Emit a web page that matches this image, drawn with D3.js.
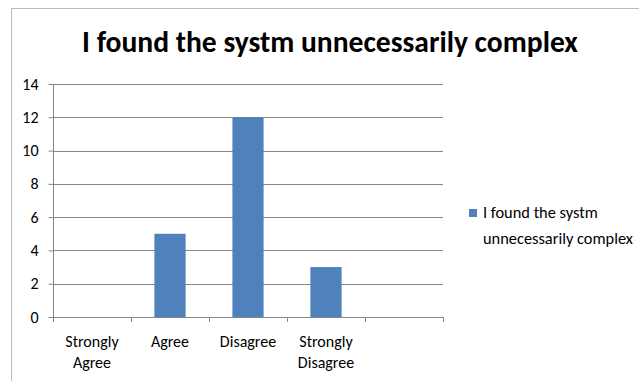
<!DOCTYPE html>
<html>
<head>
<meta charset="utf-8">
<script src="https://cdn.jsdelivr.net/npm/d3@7"></script>
<style>
  html, body { margin: 0; padding: 0; background: #fff; }
  svg { display: block; }
  text { font-family: Carlito, Calibri, Lato, "Open Sans", sans-serif; fill: #000; }
</style>
</head>
<body>
<svg id="chart" width="639" height="381"></svg>
<script>
// Survey responses for "I found the systm unnecessarily complex"
const chartTitle = "I found the systm unnecessarily complex";
const seriesName = "I found the systm unnecessarily complex";
const categories = ["Strongly Agree", "Agree", "Disagree", "Strongly Disagree", ""];
const values = [0, 5, 12, 3, null];
const yTicks = [0, 2, 4, 6, 8, 10, 12, 14];
const legendLines = ["I found the systm", "unnecessarily complex"];

const svg = d3.select("#chart");
const plot = { left: 53, right: 443, top: 84, bottom: 317 };
const gridColor = "#868686";
const barColor = "#4f81bd";

// Shrink or grow a text's font size so it spans the given width
function fitWidth(sel, width) {
  const node = sel.node();
  const size = parseFloat(sel.attr("font-size"));
  const w = node.getComputedTextLength();
  if (w > 0) sel.attr("font-size", (size * width / w).toFixed(2));
  return parseFloat(sel.attr("font-size"));
}

// Chart frame
svg.append("rect")
  .attr("x", 11.5).attr("y", 8.5)
  .attr("width", 700).attr("height", 400)
  .attr("fill", "none").attr("stroke", "#bcbcbc").attr("stroke-width", 1);

// Title
const title = svg.append("text")
  .attr("x", 330).attr("y", 52)
  .attr("text-anchor", "middle")
  .attr("font-weight", "bold")
  .attr("font-size", 28)
  .text(chartTitle);
fitWidth(title, 496);

const x = d3.scaleBand()
  .domain(categories)
  .range([plot.left, plot.right])
  .paddingInner(0.6)
  .paddingOuter(0.3);

const y = d3.scaleLinear()
  .domain([0, 14])
  .range([plot.bottom, plot.top]);

// Horizontal gridlines
svg.append("g")
  .selectAll("line")
  .data(yTicks.filter(d => d > 0))
  .join("line")
  .attr("x1", plot.left).attr("x2", plot.right)
  .attr("y1", d => Math.round(y(d)) + 0.5).attr("y2", d => Math.round(y(d)) + 0.5)
  .attr("stroke", gridColor).attr("stroke-width", 1);

// Bars
svg.append("g")
  .selectAll("rect")
  .data(categories.map((c, i) => ({ c, v: values[i] })).filter(d => d.v != null && d.v > 0))
  .join("rect")
  .attr("x", d => x(d.c))
  .attr("width", x.bandwidth())
  .attr("y", d => y(d.v))
  .attr("height", d => y(0) - y(d.v))
  .attr("fill", barColor);

// Value axis
const yAxis = svg.append("g")
  .attr("transform", `translate(${plot.left + 0.5},0)`)
  .call(d3.axisLeft(y).tickValues(yTicks).tickSize(5).tickPadding(10).tickFormat(d3.format("d")));
yAxis.select(".domain").attr("stroke", gridColor).attr("d", `M0,${y(0)}V${y(14)}`);
yAxis.selectAll(".tick line").attr("stroke", gridColor);
yAxis.selectAll(".tick text")
  .attr("font-size", 16)
  .attr("font-family", null)
  .attr("fill", "#000");

// Category axis: tick marks sit on the boundaries between categories
const step = x.step();
const bounds = d3.range(categories.length + 1).map(i => plot.left + i * step);
const xAxis = svg.append("g");
xAxis.append("line")
  .attr("x1", plot.left).attr("x2", plot.right)
  .attr("y1", y(0) + 0.5).attr("y2", y(0) + 0.5)
  .attr("stroke", gridColor);
xAxis.selectAll("line.tick")
  .data(bounds)
  .join("line")
  .attr("class", "tick")
  .attr("x1", d => Math.round(d) + 0.5).attr("x2", d => Math.round(d) + 0.5)
  .attr("y1", y(0)).attr("y2", y(0) + 5)
  .attr("stroke", gridColor);

// Category labels, wrapped onto two lines where needed
const labelLines = {
  "Strongly Agree": ["Strongly", "Agree"],
  "Agree": ["Agree"],
  "Disagree": ["Disagree"],
  "Strongly Disagree": ["Strongly", "Disagree"],
  "": []
};
xAxis.selectAll("text.cat")
  .data(categories)
  .join("text")
  .attr("class", "cat")
  .attr("text-anchor", "middle")
  .attr("font-size", 16)
  .each(function (c) {
    const t = d3.select(this);
    labelLines[c].forEach((line, i) => {
      t.append("tspan")
        .attr("x", x(c) + x.bandwidth() / 2)
        .attr("y", 347 + i * 21)
        .text(line);
    });
  });

// Legend
const legend = svg.append("g");
legend.append("rect")
  .attr("x", 469).attr("y", 209)
  .attr("width", 8).attr("height", 8)
  .attr("fill", barColor);
const legendText = legend.selectAll("text")
  .data(legendLines)
  .join("text")
  .attr("x", 483)
  .attr("y", (d, i) => 218 + i * 26)
  .attr("font-size", 15.5)
  .text(d => d);
const legendSize = fitWidth(legendText.filter((d, i) => i === 1), 150);
legendText.attr("font-size", legendSize);
</script>
</body>
</html>
